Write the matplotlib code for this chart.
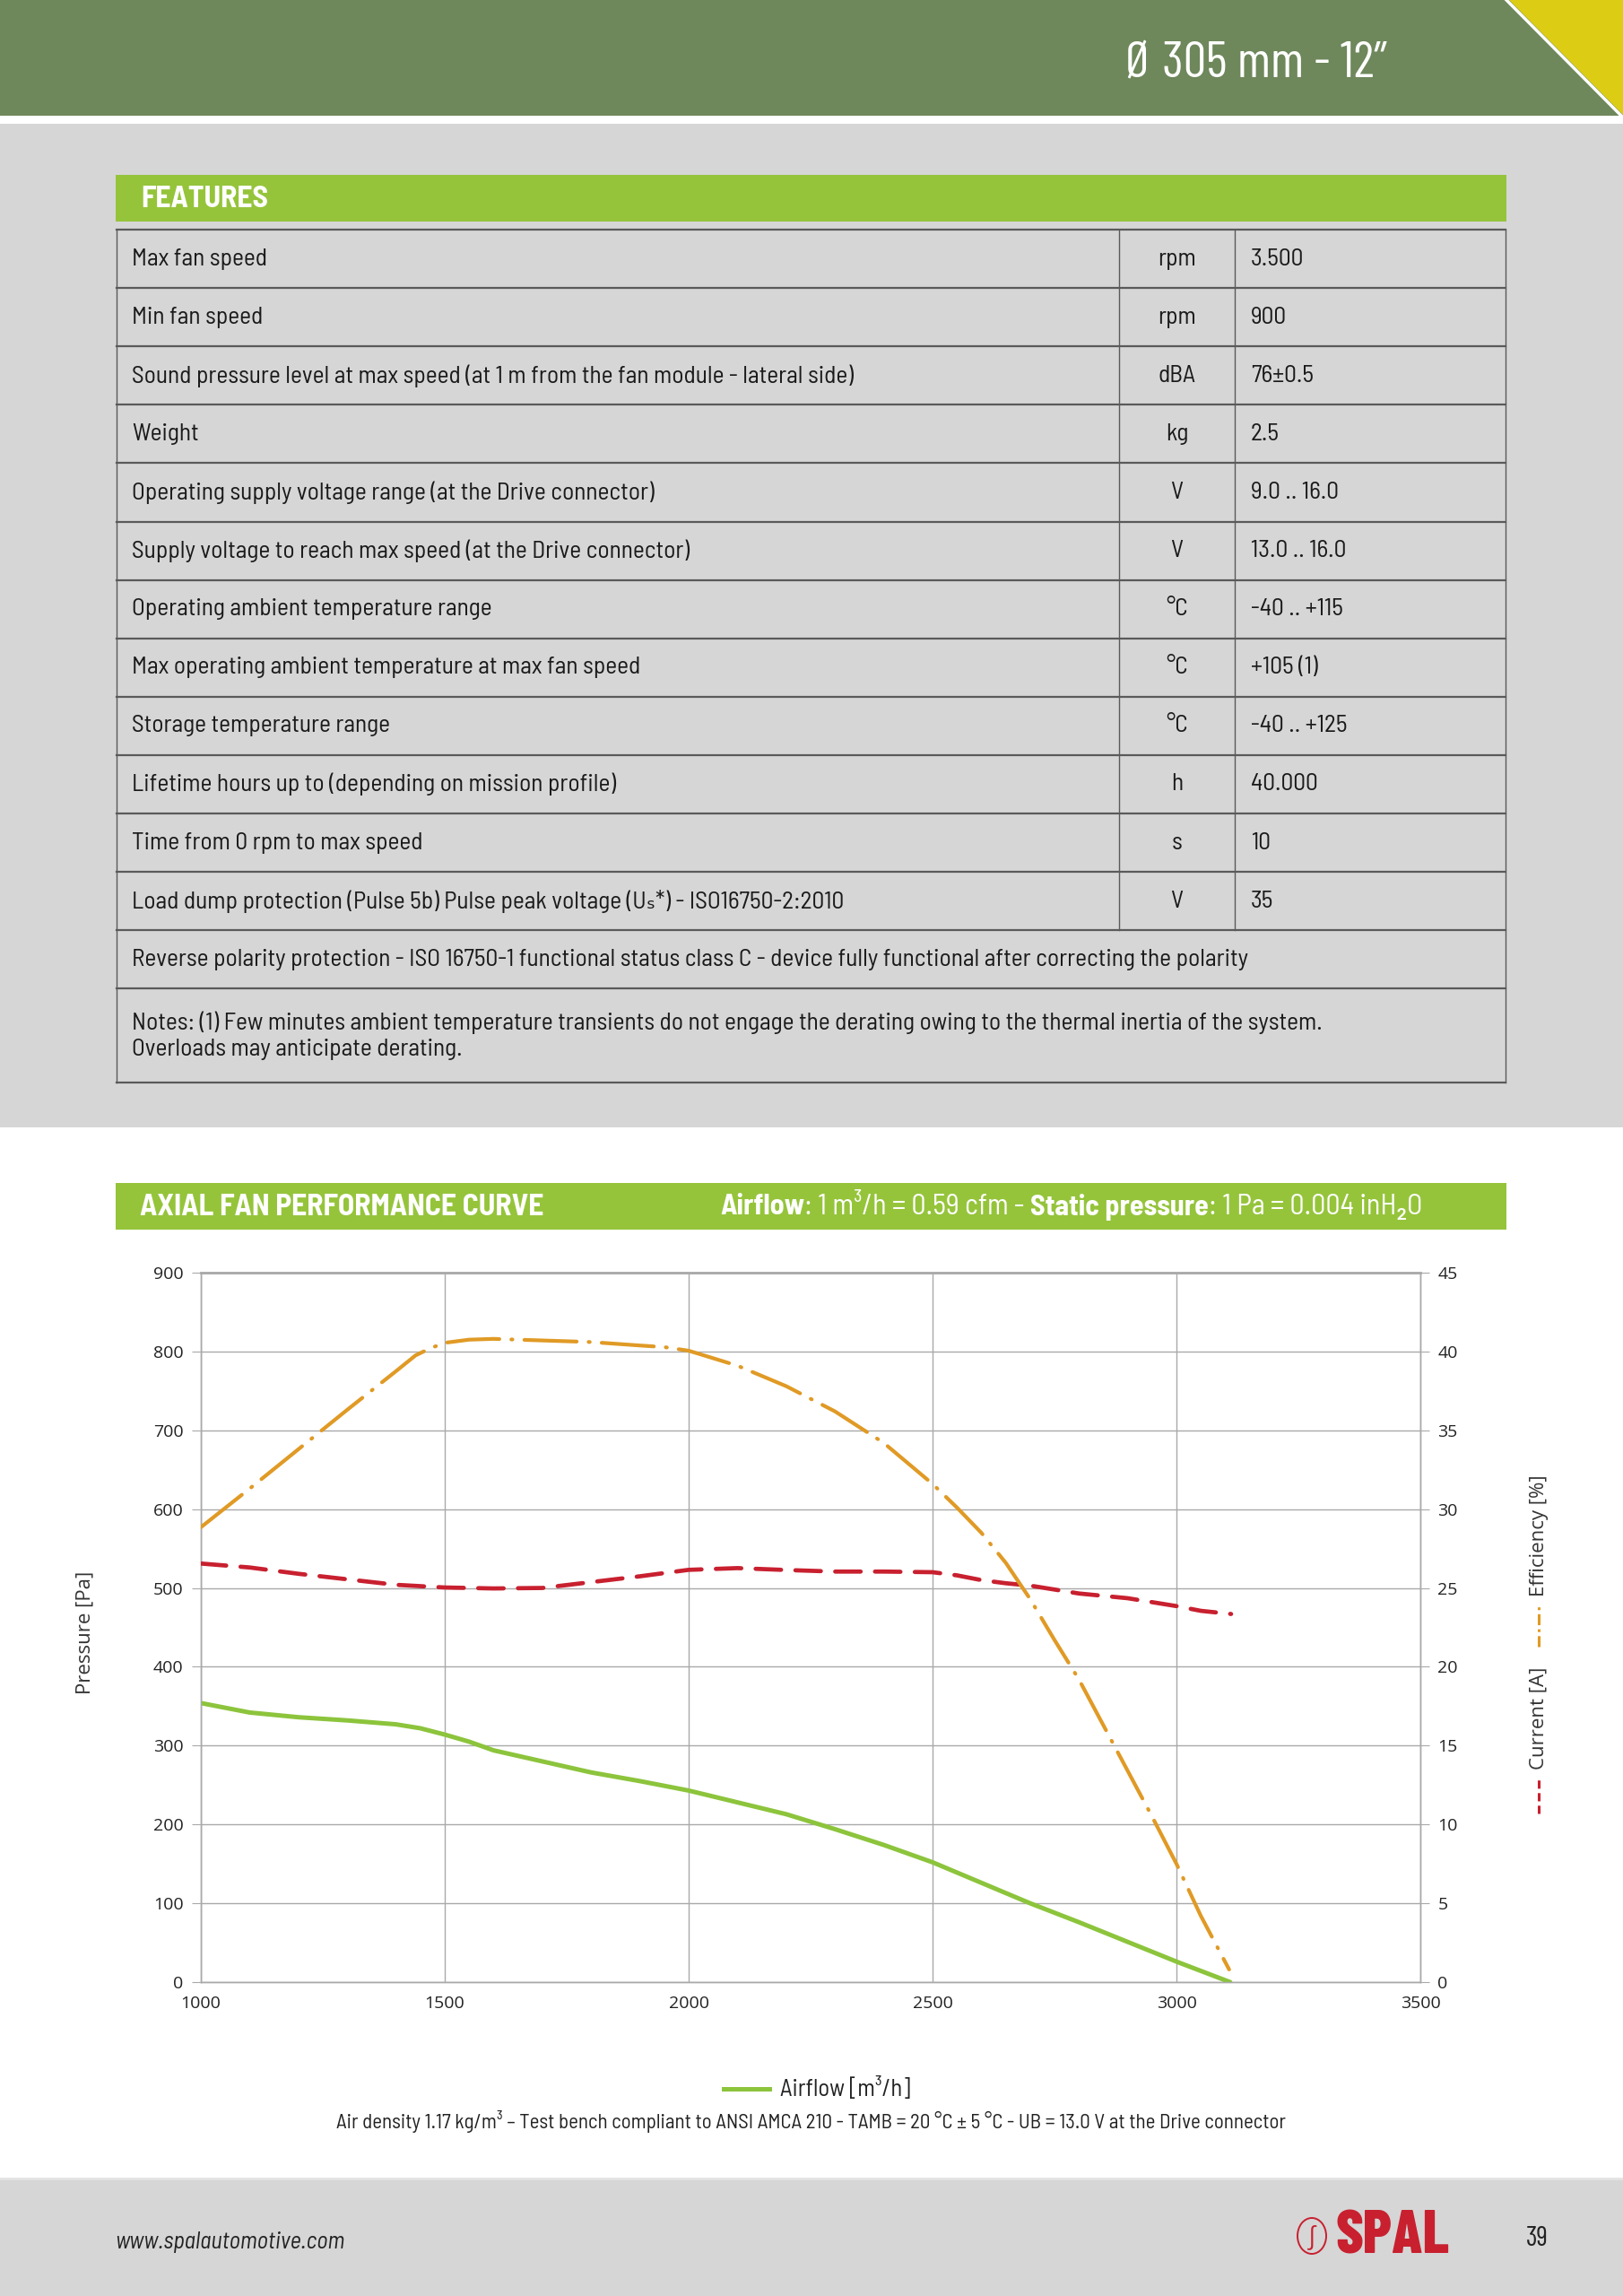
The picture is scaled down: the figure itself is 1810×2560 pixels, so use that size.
import matplotlib
matplotlib.use("Agg")
import matplotlib.pyplot as plt
from matplotlib.patches import Rectangle, Polygon, Ellipse

# --- values ---
airflow_p = [1000, 1100, 1200, 1300, 1400, 1450, 1500, 1550, 1600, 1700, 1800, 1900,
             2000, 2100, 2200, 2300, 2400, 2500, 2600, 2700, 2800, 2900, 3000, 3110]
pressure = [354, 342, 336, 332, 327, 322, 314, 305, 294, 280, 266, 255,
            243, 228, 213, 194, 174, 152, 126, 100, 76, 51, 26, 0]

airflow_c = [1000, 1100, 1200, 1300, 1400, 1500, 1600, 1700, 1800, 1900, 2000, 2100,
             2200, 2300, 2400, 2500, 2550, 2600, 2650, 2700, 2800, 2900, 3000, 3050, 3112]
current = [26.55, 26.3, 25.9, 25.55, 25.2, 25.03, 24.97, 25.0, 25.37, 25.74, 26.15, 26.26,
           26.14, 26.04, 26.04, 26.0, 25.8, 25.5, 25.3, 25.15, 24.65, 24.35, 23.85, 23.55,
           23.35]

airflow_e = [1000, 1100, 1200, 1300, 1400, 1440, 1470, 1500, 1550, 1600, 1700, 1800,
             1900, 1950, 2000, 2100, 2200, 2300, 2400, 2500, 2550, 2600, 2650, 2700,
             2750, 2800, 2850, 2900, 2950, 3000, 3050, 3108]
efficiency = [28.85, 31.3, 33.8, 36.3, 38.75, 39.75, 40.2, 40.55, 40.75, 40.8, 40.7, 40.6,
              40.38, 40.28, 40.05, 39.1, 37.8, 36.2, 34.2, 31.6, 30.1, 28.5, 26.6, 24.3,
              21.7, 19.2, 16.3, 13.4, 10.5, 7.5, 4.2, 0.8]

x_ticks = [1000, 1500, 2000, 2500, 3000, 3500]
p_ticks = [0, 100, 200, 300, 400, 500, 600, 700, 800, 900]
r_ticks = [0, 5, 10, 15, 20, 25, 30, 35, 40, 45]

feature_names = [
    "Max fan speed",
    "Min fan speed",
    "Sound pressure level at max speed (at 1 m from the fan module - lateral side)",
    "Weight",
    "Operating supply voltage range (at the Drive connector)",
    "Supply voltage to reach max speed (at the Drive connector)",
    "Operating ambient temperature range",
    "Max operating ambient temperature at max fan speed",
    "Storage temperature range",
    "Lifetime hours up to (depending on mission profile)",
    "Time from 0 rpm to max speed",
    "Load dump protection (Pulse 5b) Pulse peak voltage (Uₛ*) - ISO16750-2:2010",
]
feature_units = ["rpm", "rpm", "dBA", "kg", "V", "V", "°C", "°C", "°C", "h", "s", "V"]
feature_values = ["3.500", "900", "76±0.5", "2.5", "9.0 .. 16.0", "13.0 .. 16.0",
                  "-40 .. +115", "+105 (1)", "-40 .. +125", "40.000", "10", "35"]
polarity_note = ("Reverse polarity protection - ISO 16750-1 functional status class C - "
                 "device fully functional after correcting the polarity")
notes = ("Notes: (1) Few minutes ambient temperature transients do not engage the derating "
         "owing to the thermal inertia of the system.\nOverloads may anticipate derating.")

# colours
HEAD_GREEN = "#6e875b"
YELLOW = "#dccd14"
BAR_GREEN = "#95c43b"
GREY = "#d6d6d6"
LINE_GREEN = "#8cc43c"
RED = "#c8202f"
ORANGE = "#e09a25"
GRID = "#a9a9a9"
INK = "#1a1a1a"

COND = ["Barlow Semi Condensed", "Roboto", "DejaVu Sans"]
NARROW = ["Barlow Condensed", "Roboto", "DejaVu Sans"]
SANS = ["Open Sans", "DejaVu Sans"]

W, H = 1810, 2560
fig = plt.figure(figsize=(W / 100, H / 100), dpi=100)
fig.patch.set_facecolor("white")

bg = fig.add_axes([0, 0, 1, 1])
bg.set_xlim(0, W)
bg.set_ylim(H, 0)
bg.axis("off")
renderer = fig.canvas.get_renderer()


def text_width(s, size, **kw):
    t = bg.text(0, 0, s, fontsize=size, **kw)
    w = t.get_window_extent(renderer).width
    t.remove()
    return w


def fit_size(s, width, **kw):
    # font size that makes s span about `width` pixels
    return 20 * width / text_width(s, 20, **kw)


# header band
bg.add_patch(Rectangle((0, 0), W, 129, color=HEAD_GREEN, lw=0))
bg.add_patch(Polygon([(1683, 0), (W, 0), (W, 128)], closed=True, color=YELLOW, lw=0))
bg.plot([1680, W], [0, 131], color="white", lw=2.5)
title = "Ø 305 mm - 12”"
bg.text(1401, 72, title, color="white", family=NARROW,
        fontsize=fit_size(title, 291, family=NARROW), ha="center", va="center")

# grey features block
bg.add_patch(Rectangle((0, 138), W, 1257 - 138, color=GREY, lw=0))
bg.add_patch(Rectangle((129, 195), 1551, 52, color=BAR_GREEN, lw=0))
head_size = fit_size("AXIAL FAN PERFORMANCE CURVE", 451, family=COND, fontweight="bold")
bg.text(157, 222, "FEATURES", color="white", fontsize=head_size, fontweight="bold",
        family=COND, ha="left", va="center")

# features table
tsize = fit_size(feature_names[2], 805, family=COND)
row_h = 65.1
top = 256
left, c1, c2, right = 130, 1248, 1377, 1679
n = len(feature_names)
for i in range(n):
    yc = top + (i + 0.5) * row_h
    bg.text(147, yc, feature_names[i], fontsize=tsize, family=COND, color=INK,
            ha="left", va="center")
    bg.text((c1 + c2) / 2, yc, feature_units[i], fontsize=tsize, family=COND,
            color=INK, ha="center", va="center")
    bg.text(1395, yc, feature_values[i], fontsize=tsize, family=COND, color=INK,
            ha="left", va="center")
y_end = top + n * row_h
bg.text(147, y_end + row_h / 2, polarity_note, fontsize=tsize, family=COND,
        color=INK, ha="left", va="center")
y_notes = y_end + row_h
y_bottom = 1207
bg.text(147, (y_notes + y_bottom) / 2, notes, fontsize=tsize, family=COND,
        color=INK, ha="left", va="center", linespacing=1.25)

for i in range(n + 2):
    y = top + i * row_h
    bg.plot([left, right], [y, y], color="#5a5a5a", lw=1.6)
bg.plot([left, right], [y_bottom, y_bottom], color="#5a5a5a", lw=1.6)
bg.plot([left, left], [top, y_bottom], color="#5a5a5a", lw=1)
bg.plot([right, right], [top, y_bottom], color="#5a5a5a", lw=1)
for cx in (c1, c2):
    bg.plot([cx, cx], [top, y_end], color="#5a5a5a", lw=1)

# performance curve bar
bg.add_patch(Rectangle((129, 1319), 1551, 52, color=BAR_GREEN, lw=0))
bg.text(156, 1346, "AXIAL FAN PERFORMANCE CURVE", color="white", fontsize=head_size,
        fontweight="bold", family=COND, ha="left", va="center")

parts = [("Airflow", "bold"), (": 1 m³/h = 0.59 cfm - ", "normal"),
         ("Static pressure", "bold"), (": 1 Pa = 0.004 inH₂O", "normal")]
total = sum(text_width(s, 20, family=COND, fontweight=w) for s, w in parts)
psize = 20 * 783 / total
x = 1586 - 783
for s, w in parts:
    bg.text(x, 1346, s, color="white", fontsize=psize, fontweight=w, family=COND,
            ha="left", va="center")
    x += text_width(s, psize, family=COND, fontweight=w)

# chart
ax = fig.add_axes([224 / W, 1 - 2210 / H, (1584 - 224) / W, (2210 - 1419) / H])
ax2 = ax.twinx()

ax.plot(airflow_p, pressure, color=LINE_GREEN, lw=3.6, solid_capstyle="round", zorder=3)
red_line, = ax2.plot(airflow_c, current, color=RED, lw=3.4, zorder=3,
                     dash_capstyle="round")
red_line.set_dashes([6.0, 3.4])
or_line, = ax2.plot(airflow_e, efficiency, color=ORANGE, lw=3.0, zorder=3,
                    dash_capstyle="round")
or_line.set_dashes([14, 3.2, 0.3, 3.2])

ax.set_xlim(1000, 3500)
ax.set_ylim(0, 900)
ax2.set_ylim(0, 45)
ax.set_xticks(x_ticks)
ax.set_yticks(p_ticks)
ax2.set_yticks(r_ticks)
ax.set_xticklabels([str(v) for v in x_ticks], family=SANS)
ax.set_yticklabels([str(v) for v in p_ticks], family=SANS)
ax2.set_yticklabels([str(v) for v in r_ticks], family=SANS)

ax.grid(True, color=GRID, lw=1)
ax.set_axisbelow(True)
for a in (ax, ax2):
    for sp in a.spines.values():
        sp.set_color(GRID)
        sp.set_linewidth(1)
ax.spines["top"].set_linewidth(2)
for a in (ax, ax2):
    a.tick_params(axis="y", length=7, color=GRID, pad=7, labelsize=14,
                  labelcolor="#222222")
ax.tick_params(axis="x", length=0, pad=11, labelsize=14, labelcolor="#222222")
ax.patch.set_alpha(0)

bg.text(95, 1820, "Pressure [Pa]", rotation=90, fontsize=16, family=SANS,
        color="#333333", ha="center", va="center")

# vertical legend on the right
bg.text(1716, 1916, "Current [A]", rotation=90, fontsize=16, family=SANS,
        color="#333333", ha="center", va="center")
leg_r, = bg.plot([1716, 1716], [2022, 1982], color=RED, lw=2.2)
leg_r.set_dashes([3, 1.6])
bg.text(1716, 1712, "Efficiency [%]", rotation=90, fontsize=16, family=SANS,
        color="#333333", ha="center", va="center")
leg_o, = bg.plot([1716, 1716], [1836, 1788], color=ORANGE, lw=2.2)
leg_o.set_dashes([4, 1.5, 1, 1.5])

# bottom legend and note
bg.plot([807, 858], [2329, 2329], color=LINE_GREEN, lw=3.6)
leg_txt = "Airflow [m³/h]"
bg.text(870, 2329, leg_txt, fontsize=fit_size(leg_txt, 145, family=COND),
        family=COND, color="#222222", ha="left", va="center")
foot = ("Air density 1.17 kg/m³ – Test bench compliant to ANSI AMCA 210 - "
        "TAMB = 20 °C ± 5 °C - UB = 13.0 V at the Drive connector")
bg.text(904, 2366, foot, fontsize=fit_size(foot, 1056, family=COND), family=COND,
        color="#222222", ha="center", va="center")

# footer
bg.add_patch(Rectangle((0, 2429), W, H - 2429, color=GREY, lw=0))
bg.plot([0, W], [2429, 2429], color="#e4e4e4", lw=2)
url = "www.spalautomotive.com"
bg.text(128, 2500, url, fontsize=fit_size(url, 256, family=COND, style="italic"),
        family=COND, style="italic", color="#222222", ha="left", va="center")
bg.add_patch(Ellipse((1463, 2493), 32, 40, fill=False, ec=RED, lw=1.4))
bg.text(1463, 2494, "∫", fontsize=20, color=RED, ha="center", va="center", family=SANS)
bg.text(1489, 2495, "SPAL",
        fontsize=fit_size("SPAL", 127, family=NARROW, fontweight="heavy"),
        fontweight="heavy", family=NARROW, color=RED, ha="left", va="center")
bg.text(1714, 2496, "39", fontsize=22, family=NARROW, color="#222222",
        ha="center", va="center")

fig.savefig("out.png", dpi=100)
